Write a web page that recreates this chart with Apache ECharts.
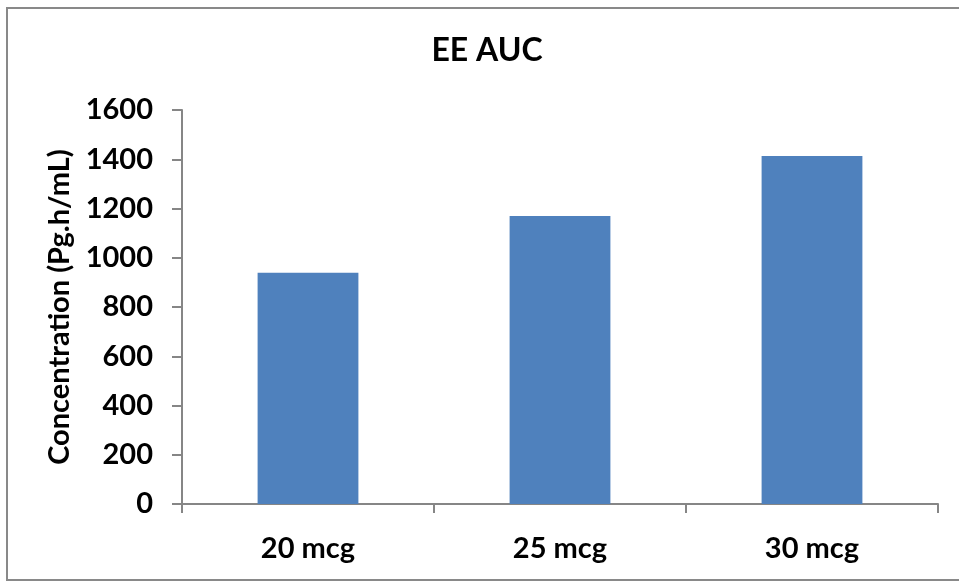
<!DOCTYPE html>
<html>
<head>
<meta charset="utf-8">
<style>
  html, body { margin: 0; padding: 0; background: #ffffff; }
  #chart { width: 959px; height: 582px; }
</style>
<script src="https://cdn.jsdelivr.net/npm/echarts@6/dist/echarts.min.js"></script>
</head>
<body>
<div id="chart"></div>
<script>
// Ethinyl estradiol exposure (AUC) by dose
const doses = ['20 mcg', '25 mcg', '30 mcg'];
const aucValues = [939, 1170, 1413];
const yTicks = { min: 0, max: 1600, step: 200 };

const FONT = 'Lato, "Open Sans", sans-serif';
const AXIS_GREY = '#868686';

const chart = echarts.init(document.getElementById('chart'), null, { renderer: 'canvas' });

chart.setOption({
  animation: false,
  backgroundColor: '#ffffff',
  title: {
    text: 'EE AUC',
    left: 482,
    top: 30,
    textAlign: 'center',
    textStyle: { fontFamily: FONT, fontWeight: 'bold', fontSize: 32, color: '#000000' }
  },
  graphic: [{
    type: 'rect',
    shape: { x: 7, y: 8, width: 970, height: 572 },
    style: { fill: 'none', stroke: '#898989', lineWidth: 2 },
    silent: true,
    z: -10
  }],
  grid: { left: 182, right: 21, top: 110, bottom: 78, containLabel: false },
  xAxis: {
    type: 'category',
    data: doses,
    axisLine: { show: true, lineStyle: { color: AXIS_GREY, width: 2 } },
    axisTick: { show: true, alignWithLabel: false, length: 9, lineStyle: { color: AXIS_GREY, width: 2 } },
    axisLabel: { margin: 30, fontFamily: FONT, fontWeight: 'bold', fontSize: 29, color: '#000000' },
    splitLine: { show: false }
  },
  yAxis: {
    type: 'value',
    min: yTicks.min,
    max: yTicks.max,
    interval: yTicks.step,
    name: 'Concentration (Pg.h/mL)',
    nameLocation: 'middle',
    nameRotate: 90,
    nameGap: 108,
    nameTextStyle: { fontFamily: FONT, fontWeight: 'bold', fontSize: 29, color: '#000000' },
    axisLine: { show: true, lineStyle: { color: AXIS_GREY, width: 2 } },
    axisTick: { show: true, length: 10, lineStyle: { color: AXIS_GREY, width: 2 } },
    axisLabel: {
      margin: 29,
      formatter: (v) => String(v),
      fontFamily: FONT, fontWeight: 'bold', fontSize: 29, color: '#000000'
    },
    splitLine: { show: false }
  },
  series: [{
    type: 'bar',
    data: aucValues,
    barWidth: '40%',
    itemStyle: { color: '#4F81BD' }
  }]
});
</script>
</body>
</html>
